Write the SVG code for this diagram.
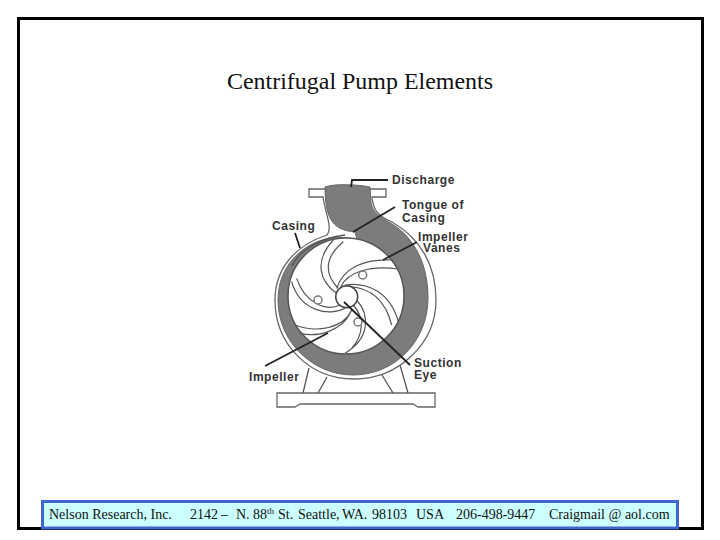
<svg xmlns="http://www.w3.org/2000/svg" width="720" height="540" viewBox="0 0 720 540">
<style>
.lab{font-family:"Liberation Sans",Arial,sans-serif;font-size:12px;font-weight:bold;fill:#333;letter-spacing:.55px}
.foot{font-family:"Liberation Serif","Times New Roman",serif;font-size:14px;fill:#111}
.ln{fill:none;stroke:#555;stroke-width:1.3}
.vane{fill:none;stroke:#555;stroke-width:3.6}
.dk{fill:none;stroke:#222;stroke-width:1.8}
.bg{fill:#fff;stroke:#666;stroke-width:1.3}
.hole{fill:#fff;stroke:#777;stroke-width:1.500}
</style>
<defs><filter id="soft" x="-5%" y="-5%" width="110%" height="110%"><feGaussianBlur stdDeviation="0.35"/></filter></defs>
<rect width="720" height="540" fill="#fff"/>
<rect x="18.500" y="18.500" width="684" height="510" fill="#fff" stroke="#000" stroke-width="3"/>
<text x="360" y="89" text-anchor="middle" font-family="Liberation Serif, serif" font-size="24" textLength="266" lengthAdjust="spacingAndGlyphs" fill="#111">Centrifugal Pump Elements</text>
<g id="pump" filter="url(#soft)">
<path class="bg" d="M277 393H435V407H418L413 404H300L295 407H277Z"/>
<path class="ln" d="M303 393L309 368M318 393L327 377M393 393L382 375M408 393L400 365"/>
<path class="bg" d="M309 189H386V197H372C373 210 378 216 392 222C420 238 436 265 436 300C436 344 398 379 354 379C310 379 275 345 275 300C275 268 296 245 327 235C333 228 325 212 323 197H309Z"/>
<path fill="#7c7c7c" stroke="#666" d="M325 187C335 183 362 185 370 187L371 203C373 213 380 217 392 224C415 238 428 265 428 298C428 341 395 375 353 375C313 375 278 342 278 300C278 268 300 242 335 237L357 239L355 232C335 230 325 222 325 187Z"/>
<circle cx="346" cy="296" r="58" fill="#fff" stroke="#555" stroke-width="1.500"/>
<path class="ln" d="M292 266C300 250 320 238 345 235" stroke-width="1.500"/>
<g transform="translate(270 225) scale(.33333)">
<path class="vane" d="M200 190C220 130 280 100 370 105M212 185C235 140 300 120 385 132"/>
<path class="vane" d="M225 180C290 170 360 200 385 290M240 185C300 190 345 220 365 300"/>
<path class="vane" d="M260 225C300 270 300 340 225 385M250 240C285 280 280 330 245 370"/>
<path class="vane" d="M245 255C220 310 140 325 75 300M240 265C220 310 150 340 90 325"/>
<path class="vane" d="M225 250C180 275 90 260 65 170M210 240C170 260 105 235 80 160"/>
<path class="vane" d="M200 205C150 170 130 110 190 45M205 190C165 150 160 100 220 50"/>
</g>
<circle cx="346.700" cy="296.700" r="11" fill="#fff" stroke="#444" stroke-width="1.500"/>
<circle class="hole" cx="362.700" cy="275" r="4"/>
<circle class="hole" cx="318" cy="300" r="4"/>
<circle class="hole" cx="358" cy="322" r="4"/>
</g>
<g id="connectors" filter="url(#soft)">
<path class="dk" d="M351 187L352 180H388"/>
<path class="dk" d="M353 232L395 207"/>
<path class="dk" d="M383 260L417 242"/>
<path class="dk" d="M295 233L300 248"/>
<path class="dk" d="M265 366L328 333"/>
<path class="dk" d="M344 302L410 365"/>
</g>
<g id="labels">
<text class="lab" x="392" y="184">Discharge</text>
<text class="lab" x="402" y="209">Tongue of</text>
<text class="lab" x="402" y="222">Casing</text>
<text class="lab" x="418" y="241">Impeller</text>
<text class="lab" x="423" y="252">Vanes</text>
<text class="lab" x="272" y="230">Casing</text>
<text class="lab" x="249" y="381">Impeller</text>
<text class="lab" x="414" y="367">Suction</text>
<text class="lab" x="414" y="379">Eye</text>
</g>
<g id="footer">
<rect x="42.500" y="501.500" width="635" height="26.500" fill="#ccffff" stroke="#3f66cc" stroke-width="3"/>
<text class="foot" x="49" y="519">Nelson Research, Inc.</text>
<text class="foot" y="519"><tspan x="190">2142</tspan><tspan x="221">–</tspan><tspan x="236">N.</tspan><tspan x="253">88</tspan><tspan font-size="9" dy="-5">th</tspan><tspan x="278" dy="5">St.</tspan><tspan x="298">Seattle,</tspan><tspan x="342">WA.</tspan><tspan x="372">98103</tspan><tspan x="416">USA</tspan></text>
<text class="foot" x="456" y="519">206-498-9447</text>
<text class="foot" x="549" y="519">Craigmail @ aol.com</text>
</g>
</svg>
